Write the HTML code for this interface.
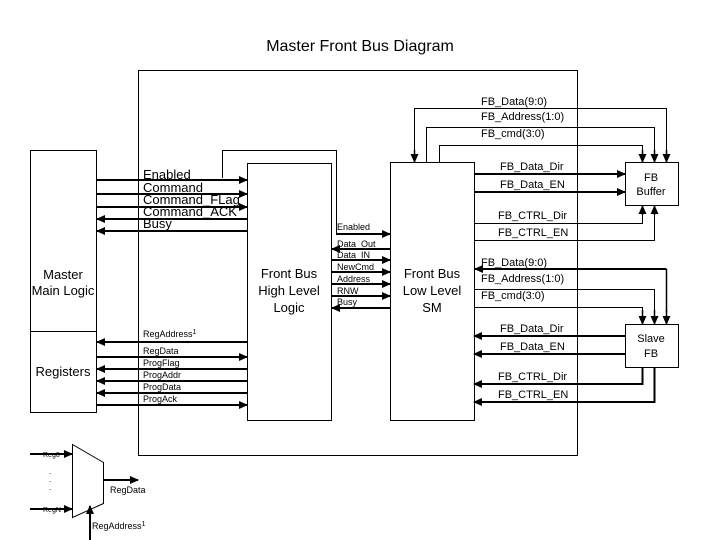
<!DOCTYPE html>
<html><head><style>
html,body{margin:0;padding:0;background:#fff;}
svg{display:block;font-family:"Liberation Sans",Arial,sans-serif;}
.s{font-size:11px;}
.t{font-size:9px;}
.b{font-size:13px;}
</style></head><body>
<svg width="720" height="540" viewBox="0 0 720 540" xmlns="http://www.w3.org/2000/svg">
<defs>
<marker id="a" markerUnits="userSpaceOnUse" markerWidth="9" markerHeight="8" refX="8" refY="4" orient="auto"><path d="M0,0 L9,4 L0,8 z" fill="#000"/></marker>
</defs>
<rect width="720" height="540" fill="#fff"/>
<text x="360" y="51" text-anchor="middle" font-size="16">Master Front Bus Diagram</text>

<g fill="none" stroke="#000" stroke-width="1">
<rect x="138.5" y="70.5" width="439" height="385"/>
<rect x="30.5" y="150.5" width="66" height="262"/>
<line x1="30" y1="331.5" x2="97" y2="331.5"/>
<rect x="247.5" y="163.5" width="84" height="257"/>
<rect x="390.5" y="162.5" width="84" height="258"/>
<rect x="625.5" y="162.5" width="53" height="43"/>
<rect x="625.5" y="324.5" width="53" height="43"/>
<polyline points="222.5,178 222.5,150.5 336.5,150.5 336.5,234"/>
<polyline points="666.5,162 666.5,108.5 414.5,108.5 414.5,162" />
<polyline points="426.5,162 426.5,127.5 654.5,127.5 654.5,162"/>
<polyline points="439.5,162 439.5,145.5 642.5,145.5 642.5,162"/>
<polyline points="474,223.5 642.5,223.5 642.5,206"/>
<polyline points="474,240.5 654.5,240.5 654.5,206"/>
<polyline points="474,289.5 654.5,289.5 654.5,324"/>
<polyline points="474,307.5 642.5,307.5 642.5,324"/>
<polygon points="72.5,444.5 103.5,462.5 103.5,503.5 72.5,517.5"/>
</g>
<g fill="none" stroke="#000" stroke-width="1.5" marker-end="url(#a)">
<line x1="666.5" y1="150" x2="666.5" y2="162"/>
<line x1="654.5" y1="150" x2="654.5" y2="162"/>
<line x1="642.5" y1="150" x2="642.5" y2="162"/>
<line x1="414.5" y1="150" x2="414.5" y2="162"/>
<line x1="642.5" y1="215" x2="642.5" y2="206"/>
<line x1="654.5" y1="215" x2="654.5" y2="206"/>
<line x1="666.5" y1="310" x2="666.5" y2="324"/>
<line x1="654.5" y1="310" x2="654.5" y2="324"/>
<line x1="642.5" y1="310" x2="642.5" y2="324"/>
</g>
<g fill="none" stroke="#000" stroke-width="2" marker-end="url(#a)">
<line x1="97" y1="180" x2="247" y2="180"/>
<line x1="97" y1="194" x2="247" y2="194"/>
<line x1="97" y1="207" x2="247" y2="207"/>
<line x1="247" y1="219" x2="97" y2="219"/>
<line x1="247" y1="231" x2="97" y2="231"/>
<line x1="336" y1="234" x2="390" y2="234"/>
<line x1="390" y1="249" x2="332" y2="249"/>
<line x1="332" y1="260" x2="390" y2="260"/>
<line x1="332" y1="272" x2="390" y2="272"/>
<line x1="332" y1="284" x2="390" y2="284"/>
<line x1="332" y1="296" x2="390" y2="296"/>
<line x1="390" y1="308" x2="332" y2="308"/>
<line x1="247" y1="342" x2="97" y2="342"/>
<line x1="97" y1="357" x2="247" y2="357"/>
<line x1="247" y1="369" x2="97" y2="369"/>
<line x1="247" y1="381" x2="97" y2="381"/>
<line x1="247" y1="393" x2="97" y2="393"/>
<line x1="97" y1="405" x2="247" y2="405"/>
<line x1="474" y1="174" x2="625" y2="174"/>
<line x1="474" y1="192" x2="625" y2="192"/>
<polyline points="666.5,269 475,269"/>
<line x1="625" y1="336" x2="474" y2="336"/>
<line x1="625" y1="354" x2="474" y2="354"/>
<polyline points="642.5,367 642.5,384 474,384"/>
<polyline points="654.5,367 654.5,402 474,402"/>
<line x1="30" y1="454" x2="72" y2="454"/>
<line x1="30" y1="509" x2="72" y2="509"/>
<line x1="103" y1="480" x2="138" y2="480"/>
<line x1="90" y1="540" x2="90" y2="506"/>
</g>
<line x1="666.5" y1="269" x2="666.5" y2="312" stroke="#000" stroke-width="1.5"/>

<g class="b" text-anchor="middle">
<text x="63" y="279">Master</text><text x="63" y="295">Main Logic</text>
<text x="63" y="376">Registers</text>
<text x="289" y="278">Front Bus</text><text x="289" y="295">High Level</text><text x="289" y="312">Logic</text>
<text x="432" y="278">Front Bus</text><text x="432" y="295">Low Level</text><text x="432" y="312">SM</text>
</g>
<g class="s" text-anchor="middle">
<text x="651" y="181">FB</text><text x="651" y="195">Buffer</text>
<text x="651" y="342">Slave</text><text x="651" y="357">FB</text>
</g>
<g class="b" font-size="12">
<text x="143" y="179">Enabled</text>
<text x="143" y="192">Command</text>
<text x="143" y="204">Command_FLag</text>
<text x="143" y="216">Command_ACK</text>
<text x="143" y="228">Busy</text>
</g>
<g class="t">
<text x="337" y="230">Enabled</text>
<text x="337" y="247">Data_Out</text>
<text x="337" y="258">Data_IN</text>
<text x="337" y="270">NewCmd</text>
<text x="337" y="282">Address</text>
<text x="337" y="294">RNW</text>
<text x="337" y="305">Busy</text>
<text x="143" y="337">RegAddress<tspan font-size="7" dy="-3">1</tspan></text>
<text x="143" y="354">RegData</text>
<text x="143" y="366">ProgFlag</text>
<text x="143" y="378">ProgAddr</text>
<text x="143" y="390">ProgData</text>
<text x="143" y="402">ProgAck</text>
<text x="110" y="493">RegData</text>
<text x="92" y="529">RegAddress<tspan font-size="7" dy="-3">1</tspan></text>
<text x="43" y="457" font-size="7">Reg0</text>
<text x="43" y="512" font-size="7">RegN</text>
<text x="49" y="474" font-size="8">.</text>
<text x="49" y="482" font-size="8">.</text>
<text x="49" y="490" font-size="8">.</text>
</g>
<g class="s">
<text x="481" y="105">FB_Data(9:0)</text>
<text x="481" y="120">FB_Address(1:0)</text>
<text x="481" y="137">FB_cmd(3:0)</text>
<text x="500" y="170">FB_Data_Dir</text>
<text x="500" y="188">FB_Data_EN</text>
<text x="498" y="219">FB_CTRL_Dir</text>
<text x="498" y="236">FB_CTRL_EN</text>
<text x="481" y="266">FB_Data(9:0)</text>
<text x="481" y="282">FB_Address(1:0)</text>
<text x="481" y="299">FB_cmd(3:0)</text>
<text x="500" y="332">FB_Data_Dir</text>
<text x="500" y="350">FB_Data_EN</text>
<text x="498" y="380">FB_CTRL_Dir</text>
<text x="498" y="398">FB_CTRL_EN</text>
</g>
</svg>
</body></html>
